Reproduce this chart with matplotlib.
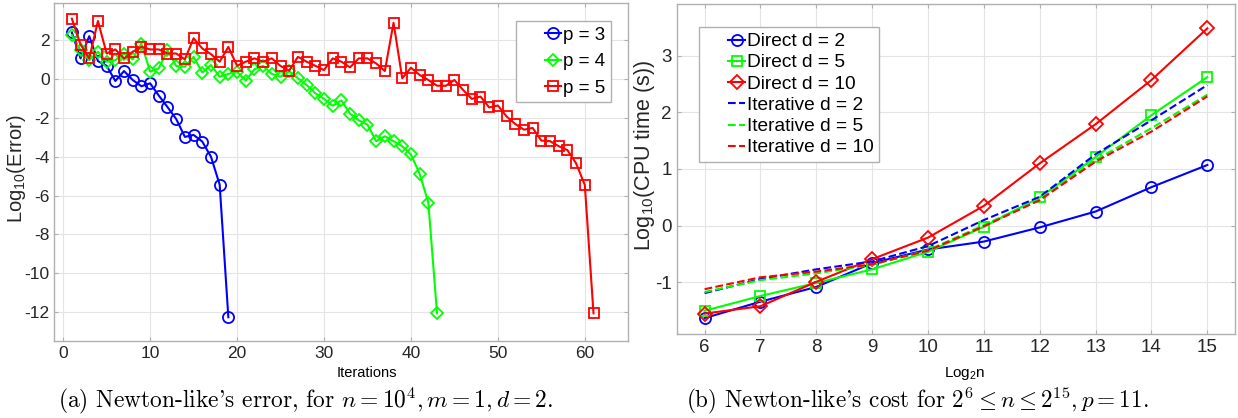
import numpy as np
import matplotlib
matplotlib.use('Agg')
import matplotlib.pyplot as plt
from matplotlib.lines import Line2D
from matplotlib.legend_handler import HandlerLine2D

plt.rcParams['font.family'] = 'Liberation Sans'
plt.rcParams['mathtext.fontset'] = 'custom'
plt.rcParams['mathtext.rm'] = 'Liberation Sans'
plt.rcParams['mathtext.it'] = 'Liberation Sans:italic'
plt.rcParams['axes.unicode_minus'] = False

# Newton-like error history (log10), one array per order p
iter_p3 = np.arange(1, 20)
err_p3 = [2.37, 1.04, 2.18, 0.90, 0.66, -0.12, 0.39, -0.07, -0.39, -0.24,
          -0.87, -1.46, -2.07, -2.99, -2.89, -3.23, -4.01, -5.44, -12.25]
iter_p4 = np.arange(1, 44)
err_p4 = [2.23, 1.46, 0.95, 1.38, 0.87, 0.95, 1.29, 0.99, 1.80, 0.36,
          0.53, 1.46, 0.65, 0.61, 1.12, 0.31, 0.70, 0.10, 0.24, 0.36,
          -0.10, 0.48, 0.65, 0.24, 0.10, 0.38, 0.02, -0.32, -0.75, -1.04,
          -1.39, -1.12, -1.80, -2.14, -2.36, -3.21, -2.96, -3.21, -3.47, -3.89,
          -4.88, -6.36, -12.05]
iter_p5 = np.arange(1, 62)
err_p5 = [3.08, 1.75, 1.04, 2.96, 1.29, 1.50, 1.04, 1.38, 1.63, 1.50,
          1.50, 1.29, 1.29, 0.99, 2.07, 1.55, 1.26, 0.87, 1.63, 0.66,
          0.87, 1.04, 0.87, 1.04, 0.65, 0.41, 1.12, 0.87, 0.66, 0.44,
          1.04, 0.87, 0.58, 1.04, 1.04, 0.78, 0.39, 2.87, 0.02, 0.56,
          0.19, -0.07, -0.36, -0.37, -0.07, -0.58, -1.04, -0.92, -1.48, -1.38,
          -1.94, -2.33, -2.62, -2.53, -3.18, -3.21, -3.47, -3.67, -4.35, -5.46,
          -12.05]

# CPU time (log10 s) against log2 n
log2n = np.arange(6, 16)
direct_d2 = [-1.63, -1.34, -1.08, -0.66, -0.42, -0.28, -0.03, 0.25, 0.68, 1.07]
direct_d5 = [-1.50, -1.24, -1.01, -0.77, -0.46, -0.02, 0.50, 1.21, 1.95, 2.62]
direct_d10 = [-1.55, -1.42, -0.99, -0.59, -0.21, 0.35, 1.10, 1.79, 2.57, 3.48]
iter_d2 = [-1.19, -0.94, -0.77, -0.63, -0.36, 0.10, 0.51, 1.26, 1.86, 2.48]
iter_d5 = [-1.17, -0.96, -0.84, -0.69, -0.43, 0.01, 0.47, 1.16, 1.72, 2.31]
iter_d10 = [-1.12, -0.91, -0.81, -0.68, -0.44, -0.01, 0.45, 1.13, 1.66, 2.28]

BLUE, GREEN, RED = '#0000ff', '#00ff00', '#ff0000'


def matlab_style(ax):
    ax.grid(True, color='#e4e4e4', lw=0.8)
    ax.set_axisbelow(True)
    for s in ax.spines.values():
        s.set_color('#b0b0b0')
        s.set_linewidth(1.0)
    ax.tick_params(direction='in', length=3, color='#b0b0b0',
                   top=True, right=True, labelcolor='#262626')


def short_handle(legline, orig):
    # keep the legend line short and pushed to the right of its slot
    legline.update_from(orig)
    x = np.asarray(legline.get_xdata(), dtype=float)
    legline.set_xdata(x[-1] - 0.42 * (x[-1] - x))


def add_legend(ax, **kw):
    leg = ax.legend(borderaxespad=0, handlelength=2.1, handletextpad=0.1,
                    fancybox=False, framealpha=1, edgecolor='#b0b0b0',
                    borderpad=0.3,
                    handler_map={Line2D: HandlerLine2D(update_func=short_handle)},
                    **kw)
    leg.get_frame().set_linewidth(1.0)
    return leg


fig = plt.figure(figsize=(12.38, 4.18), dpi=100)

# (a) error vs iterations
ax1 = fig.add_axes([0.0440, 0.1842, 0.4635, 0.808])
matlab_style(ax1)
kw = dict(lw=1.5, mfc='none', mew=1.3)
ax1.plot(iter_p3, err_p3, 'o-', color=BLUE, ms=8, label='p = 3', **kw)
ax1.plot(iter_p4, err_p4, 'D-', color=GREEN, ms=6.5, label='p = 4', **kw)
ax1.plot(iter_p5, err_p5, 's-', color=RED, ms=6.5, label='p = 5', **kw)
ax1.set_xlim(-1, 65)
ax1.set_ylim(-13.47, 3.87)
ax1.set_xticks(np.arange(0, 61, 10))
ax1.set_yticks(np.arange(-12, 3, 2))
ax1.tick_params(labelsize=12.5)
ax1.set_ylabel('Log$_{10}$(Error)', fontsize=14.5, color='#262626')
ax1.yaxis.set_label_coords(-0.046, 0.509)
ax1.set_xlabel('Iterations', fontsize=10.5, color='black')
ax1.xaxis.set_label_coords(0.545, -0.075)
add_legend(ax1, loc='upper right', bbox_to_anchor=(0.970, 0.948),
           fontsize=13.5, labelspacing=0.5)

# (b) cost vs problem size
ax2 = fig.add_axes([0.5466, 0.2010, 0.4512, 0.7895])
matlab_style(ax2)
ax2.plot(log2n, direct_d2, 'o-', color=BLUE, ms=8, label='Direct d = 2', **kw)
ax2.plot(log2n, direct_d5, 's-', color=GREEN, ms=7, label='Direct d = 5', **kw)
ax2.plot(log2n, direct_d10, 'D-', color=RED, ms=7, label='Direct d = 10', **kw)
ax2.plot(log2n, iter_d2, '--', color=BLUE, lw=1.5, label='Iterative d = 2')
ax2.plot(log2n, iter_d5, '--', color=GREEN, lw=1.5, label='Iterative d = 5')
ax2.plot(log2n, iter_d10, '--', color=RED, lw=1.5, label='Iterative d = 10')
ax2.set_xlim(5.5, 15.5)
ax2.set_ylim(-1.91, 3.91)
ax2.set_xticks(log2n)
ax2.set_yticks([-1, 0, 1, 2, 3])
ax2.tick_params(labelsize=13.5)
ax2.set_ylabel('Log$_{10}$(CPU time (s))', fontsize=15.5, color='#262626')
ax2.yaxis.set_label_coords(-0.035, 0.542)
ax2.set_xlabel('Log$_2$n', fontsize=11, color='black')
ax2.xaxis.set_label_coords(0.515, -0.095)
add_legend(ax2, loc='upper left', bbox_to_anchor=(0.040, 0.930),
           fontsize=13.8, labelspacing=0.2)

# captions under each panel
fig.text(0.247, 0.026, "(a) Newton-like's error, for $n = 10^4, m = 1, d = 2$.",
         family='cmr10', math_fontfamily='cm', fontsize=16.9, ha='center', va='baseline')
fig.text(0.741, 0.026, "(b) Newton-like's cost for $2^6 \\leq n \\leq 2^{15}, p = 11$.",
         family='cmr10', math_fontfamily='cm', fontsize=16.7, ha='center', va='baseline')

fig.savefig('out.png', dpi=100)
